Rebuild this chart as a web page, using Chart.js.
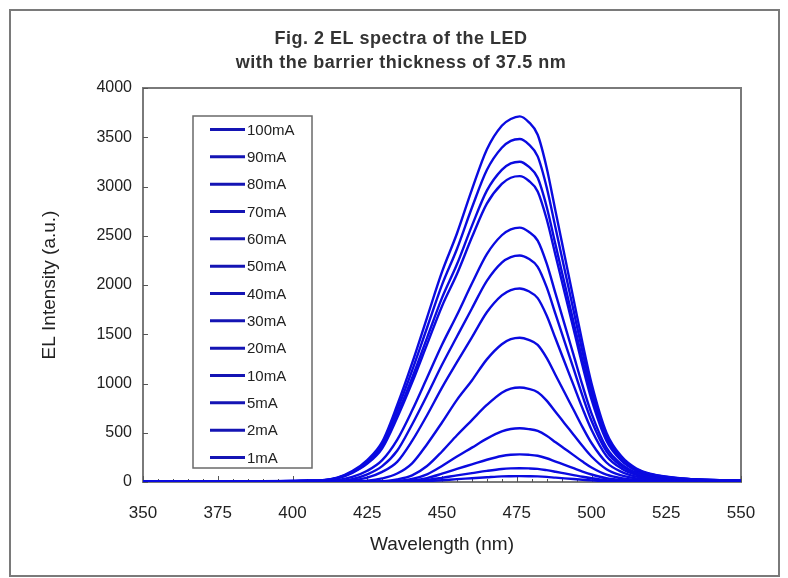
<!DOCTYPE html>
<html><head><meta charset="utf-8">
<script src="https://cdn.jsdelivr.net/npm/chart.js@4.4.1/dist/chart.umd.min.js"></script>
<style>html,body{margin:0;padding:0;background:#fff;}#wrap{width:788px;height:578px;}</style>
</head><body><div id="wrap"><canvas id="c" width="788" height="578"></canvas></div>
<script>
const titleLines = ['Fig. 2 EL spectra of the LED', 'with the barrier thickness of 37.5 nm'];
const xTitle = 'Wavelength (nm)';
const yTitle = 'EL Intensity (a.u.)';
const seriesLabels = ['100mA','90mA','80mA','70mA','60mA','50mA','40mA','30mA','20mA','10mA','5mA','2mA','1mA'];
const wavelengths = [350,380,400,405,410,415,420,425,430,435,440,445,450,455,460,465,470,473,476,479,482,485,488,491,494,497,500,505,510,515,520,530,540,550];
const i100 = [7,7,11,15,19,45,111,223,408,779,1206,1670,2133,2523,2968,3376,3617,3685,3712,3654,3525,3191,2745,2300,1855,1410,1002,501,260,137,82,37,22,15];
const i90  = [7,7,10,14,17,42,104,209,383,731,1131,1566,2001,2366,2784,3167,3393,3463,3482,3428,3306,2993,2575,2158,1740,1322,940,470,244,129,77,35,21,14];
const i80  = [6,6,10,13,16,39,98,195,358,683,1056,1463,1869,2210,2600,2958,3169,3234,3252,3201,3088,2795,2405,2015,1625,1235,878,439,228,120,72,33,20,13];
const i70  = [6,6,9,12,16,37,93,186,342,652,1009,1397,1785,2111,2484,2826,3027,3089,3105,3058,2950,2670,2298,1925,1553,1180,838,419,217,115,68,31,19,12];
const i60  = [5,5,7,9,11,19,51,114,222,428,725,1058,1393,1695,2015,2314,2505,2565,2582,2541,2451,2219,1909,1600,1290,980,697,348,181,95,57,26,15,10];
const i50  = [5,5,6,7,9,11,29,77,161,317,584,880,1190,1477,1762,2042,2228,2284,2300,2266,2185,1978,1702,1426,1150,874,621,311,161,85,51,23,14,9];
const i40  = [4,4,5,5,6,8,17,45,103,204,417,678,958,1216,1468,1723,1895,1949,1965,1936,1867,1690,1454,1218,983,747,531,265,138,73,43,20,12,8];
const i30  = [3,3,3,3,4,4,6,12,36,86,190,384,604,834,1031,1245,1399,1450,1465,1443,1392,1260,1084,908,733,557,396,198,103,54,32,15,9,6];
const i20  = [2,2,2,2,2,2,3,4,8,26,67,162,310,475,629,782,907,948,960,946,912,826,710,595,480,365,259,130,67,36,21,10,6,4];
const i10  = [1,1,1,1,1,1,1,2,3,11,31,78,163,259,349,440,513,538,545,537,518,469,403,338,273,207,147,74,38,20,12,5,3,2];
const i5   = [1,1,1,1,1,1,1,1,2,6,16,40,84,133,179,226,264,276,280,276,266,241,207,174,140,106,76,38,20,10,6,3,2,1];
const i2   = [0,0,0,0,0,0,0,1,1,3,8,20,42,67,90,113,132,138,140,138,133,120,104,87,70,53,38,19,10,5,3,1,1,1];
const i1   = [0,0,0,0,0,0,0,0,0,1,3,9,18,29,38,48,57,59,60,59,57,52,44,37,30,23,16,8,4,2,1,1,0,0];
const xTicks = [350,375,400,425,450,475,500,525,550];
const yTicks = [0,500,1000,1500,2000,2500,3000,3500,4000];

const seriesValues = [i100,i90,i80,i70,i60,i50,i40,i30,i20,i10,i5,i2,i1];
const LINE = '#0a0ae0';
const FONT = "'Liberation Sans', Arial, sans-serif";

const datasets = seriesLabels.map((lab, k) => ({
  label: lab,
  data: wavelengths.map((w, i) => ({x: w, y: seriesValues[k][i]})),
  borderColor: LINE,
  backgroundColor: LINE,
  borderWidth: 2.4,
  pointRadius: 0,
  fill: false,
  cubicInterpolationMode: 'monotone'
}));

const decor = {
  id: 'decor',
  beforeDatasetsDraw(chart) {
    const {ctx, chartArea: a, scales: {x, y}} = chart;
    ctx.save();
    ctx.strokeStyle = '#7a7a7a';
    ctx.lineWidth = 2;
    ctx.strokeRect(a.left, a.top, a.right - a.left, a.bottom - a.top);
    ctx.lineWidth = 1;
    ctx.strokeStyle = '#555';
    yTicks.forEach(v => {
      const py = Math.round(y.getPixelForValue(v)) + 0.5;
      ctx.beginPath(); ctx.moveTo(a.left, py); ctx.lineTo(a.left + 5, py); ctx.stroke();
    });
    for (let w = xTicks[0]; w <= xTicks[xTicks.length - 1]; w += 5) {
      const px = Math.round(x.getPixelForValue(w)) + 0.5;
      const len = (w % 25 === 0) ? 6 : 3;
      ctx.beginPath(); ctx.moveTo(px, a.bottom); ctx.lineTo(px, a.bottom - len); ctx.stroke();
    }
    ctx.restore();
  },
  afterDraw(chart) {
    const {ctx} = chart;
    ctx.save();
    ctx.strokeStyle = '#7a7a7a';
    ctx.lineWidth = 2;
    ctx.strokeRect(10, 10, 769, 566);
    ctx.fillStyle = '#333';
    ctx.font = 'bold 18px ' + FONT;
    ctx.textAlign = 'center';
    ctx.textBaseline = 'middle';
    if ('letterSpacing' in ctx) ctx.letterSpacing = '0.5px';
    ctx.fillText(titleLines[0], 401, 39);
    ctx.fillText(titleLines[1], 401, 63);
    if ('letterSpacing' in ctx) ctx.letterSpacing = '0px';
    const bx = 193, by = 116, bw = 119, bh = 352;
    ctx.fillStyle = '#fff';
    ctx.fillRect(bx, by, bw, bh);
    ctx.strokeStyle = '#6a6a6a';
    ctx.lineWidth = 1.5;
    ctx.strokeRect(bx, by, bw, bh);
    ctx.font = '15px ' + FONT;
    ctx.textAlign = 'left';
    chart.data.datasets.forEach((ds, i) => {
      const ly = 129.5 + i * 27.33;
      ctx.strokeStyle = '#1414b4';
      ctx.lineWidth = 3;
      ctx.beginPath(); ctx.moveTo(210, ly); ctx.lineTo(245, ly); ctx.stroke();
      ctx.fillStyle = '#222';
      ctx.fillText(ds.label, 247, ly + 1);
    });
    ctx.restore();
  }
};

new Chart(document.getElementById('c'), {
  type: 'line',
  data: {datasets},
  options: {
    responsive: false,
    animation: false,
    devicePixelRatio: 1,
    layout: {padding: {left: 0, right: 47, top: 88, bottom: 0}},
    plugins: {legend: {display: false}, tooltip: {enabled: false}, title: {display: false}},
    scales: {
      x: {
        type: 'linear', min: 350, max: 550,
        grid: {display: false, drawTicks: false},
        border: {display: false},
        afterBuildTicks: (s) => { s.ticks = xTicks.map(v => ({value: v})); },
        ticks: {padding: 21, color: '#222', font: {family: FONT, size: 17}, maxRotation: 0, callback: (v) => String(v)},
        title: {display: true, text: xTitle, color: '#222', font: {family: FONT, size: 19}, padding: {top: 0, bottom: 22}},
        afterFit: (s) => { s.height = 96; }
      },
      y: {
        type: 'linear', min: 0, max: 4000,
        grid: {display: false, drawTicks: false},
        border: {display: false},
        afterBuildTicks: (s) => { s.ticks = yTicks.map(v => ({value: v})); },
        ticks: {padding: 11, color: '#222', font: {family: FONT, size: 16}, callback: (v) => String(v)},
        title: {display: true, text: yTitle, color: '#222', font: {family: FONT, size: 19}, padding: {top: 38, bottom: 0}},
        afterFit: (s) => { s.width = 143; }
      }
    }
  },
  plugins: [decor]
});
</script></body></html>
